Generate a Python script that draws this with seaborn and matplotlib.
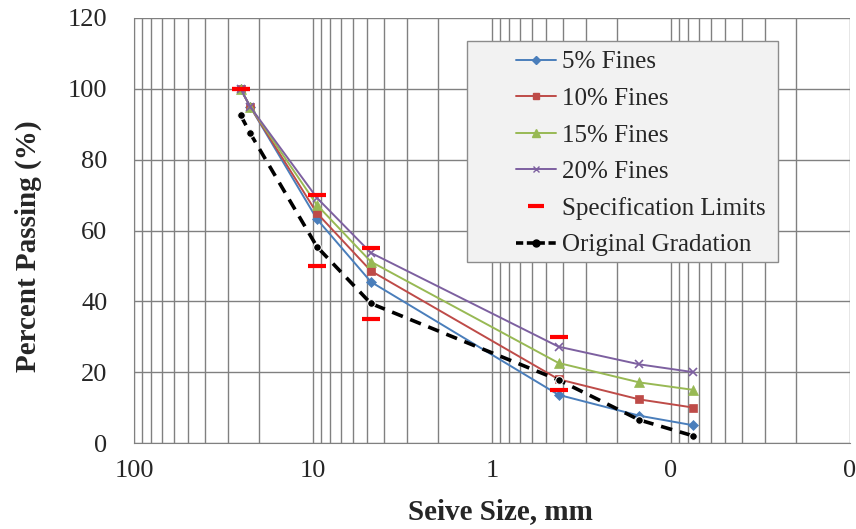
import matplotlib
matplotlib.use("Agg")
import matplotlib.pyplot as plt
import seaborn as sns
import pandas as pd
import numpy as np
from matplotlib.ticker import FixedLocator, FixedFormatter, LogLocator, NullFormatter
from matplotlib.lines import Line2D
from matplotlib.patches import Rectangle

# ---- data ----
sieve_mm = [25.4, 22.4, 9.5, 4.75, 0.425, 0.15, 0.075]
fines_5 = [100, 94.9, 63.2, 45.5, 13.6, 7.7, 5.0]
fines_10 = [100, 94.9, 64.9, 48.6, 18.0, 12.3, 10.0]
fines_15 = [100, 94.9, 67.2, 51.2, 22.6, 17.1, 15.0]
fines_20 = [100, 94.9, 69.2, 53.7, 27.2, 22.2, 20.0]
orig_sieve = [25.4, 22.4, 9.5, 4.75, 0.425, 0.15, 0.075]
orig_grad = [92.6, 87.4, 55.4, 39.4, 17.8, 6.5, 2.0]
spec_sieve = [25.4, 25.4, 9.5, 9.5, 4.75, 4.75, 0.425, 0.425]
spec_limit = [100, 100, 70, 50, 55, 35, 30, 15]
x_ticks = [100, 10, 1, 0.1, 0.01]
x_labels = ["100", "10", "1", "0", "0"]
y_ticks = [0, 20, 40, 60, 80, 100, 120]

series = [
    ("5% Fines", fines_5, "#4a7ebb", "D", 5),
    ("10% Fines", fines_10, "#be4b48", "s", 6),
    ("15% Fines", fines_15, "#98b954", "^", 7),
    ("20% Fines", fines_20, "#7d60a0", "x", 6),
]

sns.set_style("white")
plt.rcParams["font.family"] = ["Liberation Serif", "DejaVu Serif"]

fig = plt.figure(figsize=(8.56, 5.29), dpi=100)
L, R, T, B = 134, 850, 18, 443
ax = fig.add_axes([L / 856, 1 - B / 529, (R - L) / 856, (B - T) / 529])

def ax_x(px):
    return (px - L) / (R - L)

def ax_y(py):
    return (B - py) / (B - T)

handles = []
for name, vals, col, mk, ms in series:
    df = pd.DataFrame({"x": sieve_mm, "y": vals})
    sns.lineplot(data=df, x="x", y="y", ax=ax, color=col, marker=mk, markersize=ms,
                 markeredgecolor=col, markeredgewidth=1.2 if mk == "x" else 0.5,
                 linewidth=1.4, estimator=None, sort=False, zorder=4)
    handles.append(Line2D([], [], color=col, marker=mk, markersize=ms - 1,
                          markeredgecolor=col, linewidth=1.4, label=name))

spec_df = pd.DataFrame({"x": spec_sieve, "y": spec_limit})
sns.scatterplot(data=spec_df, x="x", y="y", ax=ax, marker="_", s=160, color="#ff0000",
                linewidth=3, zorder=5)
handles.append(Line2D([], [], color="#ff0000", marker="_", markersize=11,
                      markeredgewidth=3, linestyle="none", label="Specification Limits"))

orig_df = pd.DataFrame({"x": orig_sieve, "y": orig_grad})
sns.lineplot(data=orig_df, x="x", y="y", ax=ax, color="black", marker="o", markersize=5.5,
             linewidth=2.6, linestyle=(0, (3.2, 2.2)), estimator=None, sort=False, zorder=6)
handles.append(Line2D([], [], color="black", marker="o", markersize=5, linewidth=2.6,
                      linestyle=(0, (2, 1.0)), label="Original Gradation"))

ax.set_xscale("log")
ax.set_xlim(100, 0.01)
ax.set_ylim(0, 120)
ax.xaxis.set_major_locator(FixedLocator(x_ticks))
ax.xaxis.set_major_formatter(FixedFormatter(x_labels))
ax.xaxis.set_minor_locator(LogLocator(base=10, subs=np.arange(2, 10)))
ax.xaxis.set_minor_formatter(NullFormatter())
ax.set_yticks(y_ticks)

grid_col = "#808080"
ax.grid(which="major", axis="both", color=grid_col, linewidth=1.0)
ax.grid(which="minor", axis="x", color=grid_col, linewidth=1.0)
ax.set_axisbelow(True)
for s in ax.spines.values():
    s.set_visible(False)
ax.spines["left"].set_visible(True)
ax.spines["bottom"].set_visible(True)
ax.spines["left"].set_color(grid_col)
ax.spines["bottom"].set_color(grid_col)

ax.tick_params(axis="both", which="major", labelsize=19, length=5, color=grid_col,
               direction="out")
ax.tick_params(axis="y", pad=14)
ax.tick_params(axis="x", pad=7)
ax.tick_params(axis="x", which="minor", length=0)

ax.set_xlabel("Seive Size, mm", fontsize=21, fontweight="bold")
ax.set_ylabel("Percent Passing (%)", fontsize=21, fontweight="bold")
ax.xaxis.set_label_coords(ax_x(500), ax_y(512))
ax.xaxis.label.set_va("center")
ax.yaxis.set_label_coords(ax_x(28), ax_y(246))
ax.yaxis.label.set_va("center")

# legend box
box = Rectangle((ax_x(467), ax_y(262)), ax_x(778) - ax_x(467), ax_y(41) - ax_y(262),
                transform=ax.transAxes, facecolor="#f2f2f2", edgecolor="#8c8c8c",
                linewidth=1.0, zorder=9)
ax.add_patch(box)
leg = ax.legend(handles=handles, loc="upper left",
                bbox_to_anchor=(ax_x(516), ax_y(51)),
                fontsize=18, frameon=False, handlelength=1.6, labelspacing=0.56,
                borderpad=0, handletextpad=0.25, borderaxespad=0)
leg.set_zorder(10)

fig.savefig("out.png", dpi=100)
